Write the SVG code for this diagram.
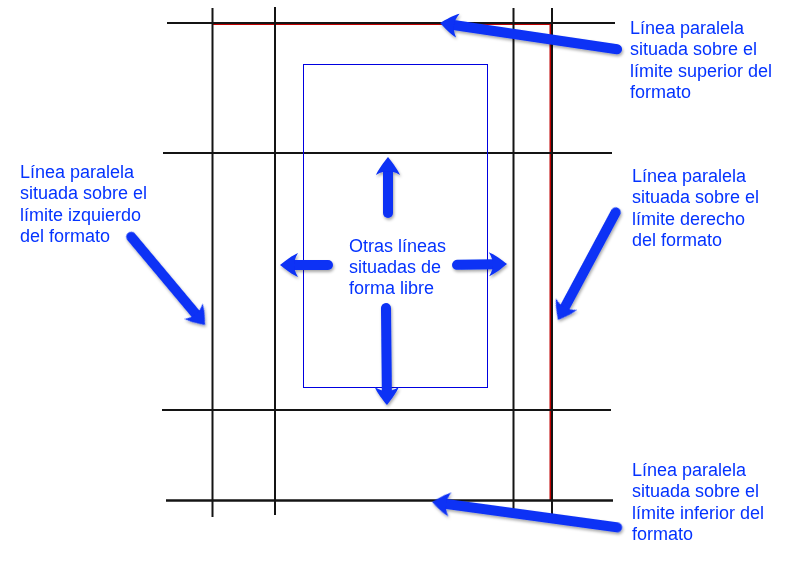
<svg xmlns="http://www.w3.org/2000/svg" xmlns:xlink="http://www.w3.org/1999/xlink" width="807" height="572" viewBox="0 0 807 572">
  <style>
    .grid { stroke: #141414; stroke-width: 2; fill: none; }
    .edge { stroke: #c00000; stroke-width: 2; fill: none; }
    .frame { stroke: #0000e0; stroke-width: 1; fill: none; }
    .label { font-family: "Liberation Sans", Arial, Helvetica, sans-serif; font-size: 18px; fill: #0433ff; }
    .shaft { stroke: #0a30f5; stroke-width: 10; stroke-linecap: round; fill: none; }
    .head { fill: #0a30f5; }
  </style>
  <defs>
    <filter id="shadow" x="-20%" y="-20%" width="140%" height="140%">
      <feDropShadow dx="1" dy="2" stdDeviation="1.5" flood-color="#000" flood-opacity="0.35"/>
    </filter>
    <path id="arrowhead" class="head" d="M0,0 C-5,-4 -13,-10 -18,-12 C-15,-7 -14,-3 -14,0 C-14,3 -15,7 -18,12 C-13,10 -5,4 0,0 Z"/>
  </defs>
  <rect width="807" height="572" fill="#ffffff"/>

  <!-- page edges (red) -->
  <g id="page-edges">
    <line class="edge" x1="212" y1="24" x2="551" y2="24"/>
    <line class="edge" x1="550.5" y1="24" x2="550.5" y2="500"/>
  </g>

  <!-- grid lines -->
  <g id="grid">
    <line class="grid" x1="167" y1="23" x2="615" y2="23"/>
    <line class="grid" x1="163" y1="153" x2="612" y2="153"/>
    <line class="grid" x1="162" y1="410" x2="611" y2="410"/>
    <line class="grid" x1="166" y1="500.5" x2="613" y2="500.5" style="stroke-width:2.5"/>
    <line class="grid" x1="212.5" y1="8" x2="212.5" y2="517"/>
    <line class="grid" x1="275" y1="7" x2="275" y2="515"/>
    <line class="grid" x1="513.5" y1="8" x2="513.5" y2="517"/>
    <line class="grid" x1="552" y1="8" x2="552" y2="518"/>
  </g>

  <!-- free frame -->
  <g id="free-frame">
    <rect class="frame" x="303.5" y="64.5" width="184" height="323"/>
  </g>

  <!-- connectors -->
  <g id="connectors" filter="url(#shadow)">
    <g transform="translate(440,23) rotate(188.44)">
      <line class="shaft" x1="-179" y1="0" x2="-12" y2="0"/>
      <use xlink:href="#arrowhead"/>
    </g>
    <g transform="translate(432,502) rotate(187.79)">
      <line class="shaft" x1="-186.8" y1="0" x2="-12" y2="0"/>
      <use xlink:href="#arrowhead"/>
    </g>
    <g transform="translate(205,325) rotate(50.07)">
      <line class="shaft" x1="-115" y1="0" x2="-12" y2="0"/>
      <use xlink:href="#arrowhead"/>
    </g>
    <g transform="translate(558,320) rotate(118.18)">
      <line class="shaft" x1="-122.1" y1="0" x2="-12" y2="0"/>
      <use xlink:href="#arrowhead"/>
    </g>
    <g transform="translate(388,157) rotate(-90)">
      <line class="shaft" x1="-56" y1="0" x2="-12" y2="0"/>
      <use xlink:href="#arrowhead"/>
    </g>
    <g transform="translate(280,265) rotate(180)">
      <line class="shaft" x1="-48" y1="0" x2="-12" y2="0"/>
      <use xlink:href="#arrowhead"/>
    </g>
    <g transform="translate(507,264) rotate(-1)">
      <line class="shaft" x1="-50" y1="0" x2="-12" y2="0"/>
      <use xlink:href="#arrowhead"/>
    </g>
    <g transform="translate(387,405) rotate(89.4)">
      <line class="shaft" x1="-97" y1="0" x2="-12" y2="0"/>
      <use xlink:href="#arrowhead"/>
    </g>
  </g>

  <!-- labels -->
  <g id="label-top">
    <text class="label" x="630" y="34">Línea paralela</text>
    <text class="label" x="630" y="55.3">situada sobre el</text>
    <text class="label" x="630" y="76.6">límite superior del</text>
    <text class="label" x="630" y="97.9">formato</text>
  </g>
  <g id="label-left">
    <text class="label" x="20" y="178">Línea paralela</text>
    <text class="label" x="20" y="199.3">situada sobre el</text>
    <text class="label" x="20" y="220.6">límite izquierdo</text>
    <text class="label" x="20" y="241.9">del formato</text>
  </g>
  <g id="label-right">
    <text class="label" x="632" y="182">Línea paralela</text>
    <text class="label" x="632" y="203.3">situada sobre el</text>
    <text class="label" x="632" y="224.6">límite derecho</text>
    <text class="label" x="632" y="245.9">del formato</text>
  </g>
  <g id="label-bottom">
    <text class="label" x="632" y="476">Línea paralela</text>
    <text class="label" x="632" y="497.3">situada sobre el</text>
    <text class="label" x="632" y="518.6">límite inferior del</text>
    <text class="label" x="632" y="539.9">formato</text>
  </g>
  <g id="label-center">
    <text class="label" x="349" y="252">Otras líneas</text>
    <text class="label" x="349" y="273">situadas de</text>
    <text class="label" x="349" y="294">forma libre</text>
  </g>
</svg>
